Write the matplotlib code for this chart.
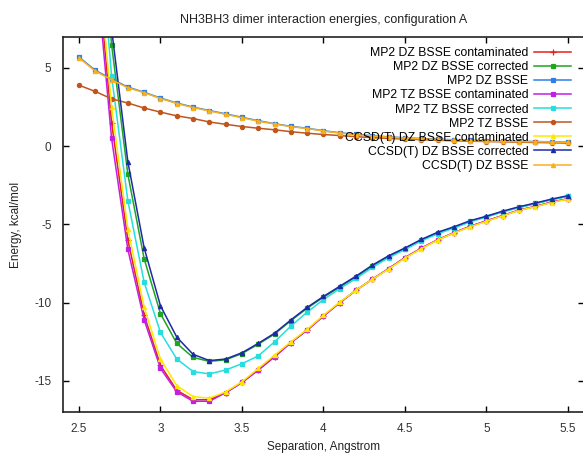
import numpy as np
import matplotlib
matplotlib.use('Agg')
import matplotlib.pyplot as plt

plt.rcParams['font.family'] = ['Liberation Sans', 'DejaVu Sans']
plt.rcParams['axes.unicode_minus'] = False

# separation, Angstrom
sep = [2.5, 2.6, 2.7, 2.8, 2.9, 3.0, 3.1, 3.2, 3.3, 3.4, 3.5,
       3.6, 3.7, 3.8, 3.9, 4.0, 4.1, 4.2, 4.3, 4.4, 4.5,
       4.6, 4.7, 4.8, 4.9, 5.0, 5.1, 5.2, 5.3, 5.4, 5.5]

# energies, kcal/mol
mp2_dz_cont = [31.0, 13.0, 1.5, -6.0, -10.8, -14.0, -15.6, -16.2, -16.2, -15.75, -15.1,
               -14.3, -13.45, -12.55, -11.75, -10.85, -10.0, -9.2, -8.5, -7.82, -7.12,
               -6.52, -5.98, -5.53, -5.12, -4.77, -4.43, -4.08, -3.85, -3.57, -3.36]
mp2_dz_corr = [39.0, 19.0, 6.5, -1.8, -7.2, -10.7, -12.6, -13.5, -13.75, -13.65, -13.25,
               -12.65, -12.0, -11.15, -10.35, -9.65, -9.0, -8.35, -7.65, -7.05, -6.55,
               -6.0, -5.55, -5.2, -4.8, -4.5, -4.18, -3.9, -3.66, -3.41, -3.19]
mp2_dz_bsse = [5.7, 4.85, 4.3, 3.78, 3.45, 3.08, 2.76, 2.5, 2.28, 2.07, 1.85,
               1.63, 1.44, 1.27, 1.15, 0.99, 0.86, 0.76, 0.67, 0.6, 0.54,
               0.49, 0.45, 0.41, 0.38, 0.35, 0.33, 0.31, 0.3, 0.28, 0.26]
mp2_tz_cont = [30.0, 12.0, 0.5, -6.6, -11.1, -14.2, -15.7, -16.3, -16.3, -15.75, -15.1,
               -14.3, -13.45, -12.55, -11.75, -10.85, -10.0, -9.2, -8.5, -7.82, -7.12,
               -6.52, -5.98, -5.53, -5.12, -4.77, -4.43, -4.08, -3.85, -3.57, -3.36]
mp2_tz_corr = [36.0, 17.0, 4.5, -3.5, -8.7, -11.9, -13.6, -14.4, -14.55, -14.3, -13.9,
               -13.4, -12.5, -11.5, -10.6, -9.8, -9.1, -8.45, -7.75, -7.12, -6.6,
               -6.05, -5.6, -5.23, -4.83, -4.52, -4.2, -3.92, -3.67, -3.42, -3.2]
mp2_tz_bsse = [3.9, 3.5, 3.03, 2.76, 2.44, 2.18, 1.94, 1.77, 1.55, 1.4, 1.26,
               1.15, 1.05, 0.93, 0.83, 0.75, 0.68, 0.61, 0.55, 0.5, 0.46,
               0.42, 0.38, 0.35, 0.32, 0.3, 0.28, 0.26, 0.24, 0.22, 0.2]
ccsd_dz_cont = [33.0, 14.0, 2.5, -5.3, -10.3, -13.6, -15.3, -16.0, -16.1, -15.7, -15.05,
                -14.2, -13.35, -12.5, -11.7, -10.8, -9.96, -9.2, -8.5, -7.85, -7.15,
                -6.55, -6.0, -5.55, -5.15, -4.8, -4.45, -4.1, -3.87, -3.6, -3.38]
ccsd_dz_corr = [40.0, 20.0, 7.5, -1.0, -6.5, -10.2, -12.2, -13.3, -13.7, -13.6, -13.2,
                -12.6, -11.95, -11.1, -10.3, -9.6, -8.95, -8.3, -7.6, -7.0, -6.5,
                -5.96, -5.5, -5.15, -4.76, -4.47, -4.15, -3.87, -3.63, -3.38, -3.16]
ccsd_dz_bsse = [5.65, 4.8, 4.25, 3.74, 3.42, 3.05, 2.73, 2.47, 2.25, 2.04, 1.82,
                1.6, 1.42, 1.25, 1.13, 0.97, 0.84, 0.74, 0.65, 0.58, 0.52,
                0.47, 0.43, 0.39, 0.36, 0.34, 0.32, 0.3, 0.29, 0.27, 0.25]

series = [
    ('MP2 DZ BSSE contaminated', mp2_dz_cont, '#e8201c', '+'),
    ('MP2 DZ BSSE corrected', mp2_dz_corr, '#1ea61e', 's'),
    ('MP2 DZ BSSE', mp2_dz_bsse, '#2f7fe6', 's'),
    ('MP2 TZ BSSE contaminated', mp2_tz_cont, '#c21ee6', 's'),
    ('MP2 TZ BSSE corrected', mp2_tz_corr, '#26dede', 's'),
    ('MP2 TZ BSSE', mp2_tz_bsse, '#c0561e', 'o'),
    ('CCSD(T) DZ BSSE contaminated', ccsd_dz_cont, '#ffe800', '^'),
    ('CCSD(T) DZ BSSE corrected', ccsd_dz_corr, '#1e2aa6', '^'),
    ('CCSD(T) DZ BSSE', ccsd_dz_bsse, '#f8b020', '^'),
]

fig = plt.figure(figsize=(5.83, 4.53), dpi=100)
ax = fig.add_axes([0.1075, 0.090, 0.8947, 0.829])

for label, vals, col, mk in series:
    ax.plot(sep, vals, color=col, lw=1.1, marker=mk, ms=3 if mk != '+' else 4.5,
            mew=0.9, label=label)

ax.set_xlim(2.4, 5.6)
ax.set_ylim(-17, 7)
ax.set_xticks([2.5, 3, 3.5, 4, 4.5, 5, 5.5])
ax.set_xticklabels(['2.5', '3', '3.5', '4', '4.5', '5', '5.5'])
ax.set_yticks([-15, -10, -5, 0, 5])
ax.tick_params(direction='in', length=4, width=1, top=True, right=True,
               labelsize=8.5, labelcolor='#333333', pad=8)
for s in ax.spines.values():
    s.set_linewidth(1.2)
    s.set_color('#222222')

ax.set_title('NH3BH3 dimer interaction energies, configuration A', fontsize=9,
             color='#222222', pad=10)
ax.set_xlabel('Separation, Angstrom', fontsize=8.5, color='#222222', labelpad=4)
ax.set_ylabel('Energy, kcal/mol', fontsize=8.5, color='#222222', labelpad=9)

leg = ax.legend(loc='upper right', frameon=False, markerfirst=False, fontsize=8.8,
                labelspacing=0.17, handlelength=3.0, handletextpad=0.5,
                borderaxespad=0.0, bbox_to_anchor=(0.984, 0.985))
for t in leg.get_texts():
    t.set_ha('right')
leg._legend_box.align = 'right'

fig.savefig('out.png', dpi=100)
